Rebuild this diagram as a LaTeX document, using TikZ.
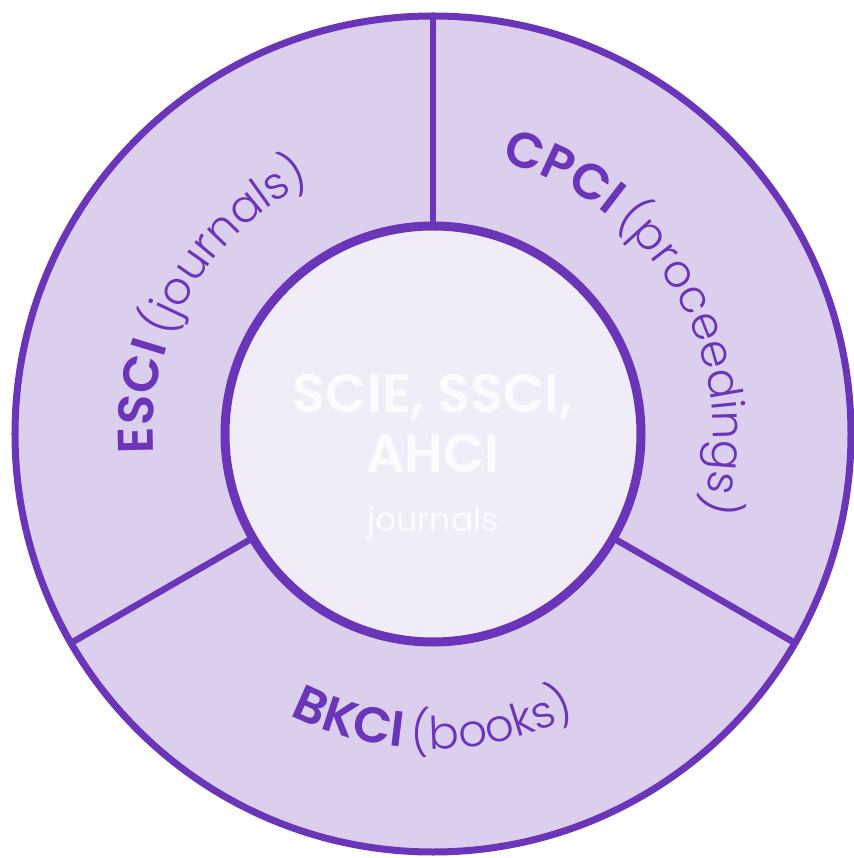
\documentclass[tikz,border=0pt]{standalone}
\usepackage{fontspec}
\setmainfont{Poppins}
\newfontfamily\plight{Poppins Light}
\newfontfamily\pbold{Poppins SemiBold}
\usetikzlibrary{decorations.text}
\definecolor{ringfill}{HTML}{DCCFEE}
\definecolor{innerfill}{HTML}{F0EDF8}
\definecolor{lineP}{HTML}{6A35B8}
\definecolor{coretext}{HTML}{FCFBFF}
\newcommand{\bigB}{\pbold\fontsize{50}{50}\selectfont}
\newcommand{\smallsp}{\fontsize{32}{32}\selectfont}
\newcommand{\lightL}{\plight\fontsize{45}{45}\selectfont}
\tikzset{
  ring/.style={circle, draw=lineP, line width=7pt, fill=ringfill, inner sep=0pt, minimum size=836pt},
  core/.style={circle, draw=lineP, line width=9pt, fill=innerfill, inner sep=0pt, minimum size=416pt},
  divider/.style={draw=lineP, line width=6.5pt},
  coretitle/.style={anchor=base, text=coretext, font=\pbold\fontsize{54}{54}\selectfont, inner sep=0pt},
  coresub/.style={anchor=base, text=coretext, font=\fontsize{33}{33}\selectfont, inner sep=0pt},
  arclabel/.style={decorate, decoration={text along path, text align=center, text color=lineP}}
}
\begin{document}
\begin{tikzpicture}[x=1pt,y=1pt]
\useasboundingbox[fill=white] (-433,-424) rectangle (420,434);
\node[ring] (outer) at (0,0) {};
\coordinate (c) at (0,0);
\draw[divider] (90:200) -- (90:418);
\draw[divider] (210:200) -- (210:418);
\draw[divider] (330:200) -- (330:418);
\node[core] (inner) at (c) {};
\node[coretitle] (t1) at (0,21) {SCIE, SSCI,};
\node[coretitle] (t2) at (0,-39) {AHCI};
\node[coresub] (t3) at (0,-98) {journals};
\path[arclabel, decoration={text={|\bigB|ESCI|\smallsp| |\lightL|(journals)}}]
  (210:280) arc[start angle=210, end angle=90, radius=280];
\path[arclabel, decoration={text={|\bigB|CPCI|\smallsp| |\lightL|(proceedings)}}]
  (90:280) arc[start angle=90, end angle=-30, radius=280];
\path[arclabel, decoration={text={|\bigB|BKCI|\smallsp| |\lightL|(books)}}]
  (210:315) arc[start angle=210, end angle=330, radius=315];
\end{tikzpicture}
\end{document}
